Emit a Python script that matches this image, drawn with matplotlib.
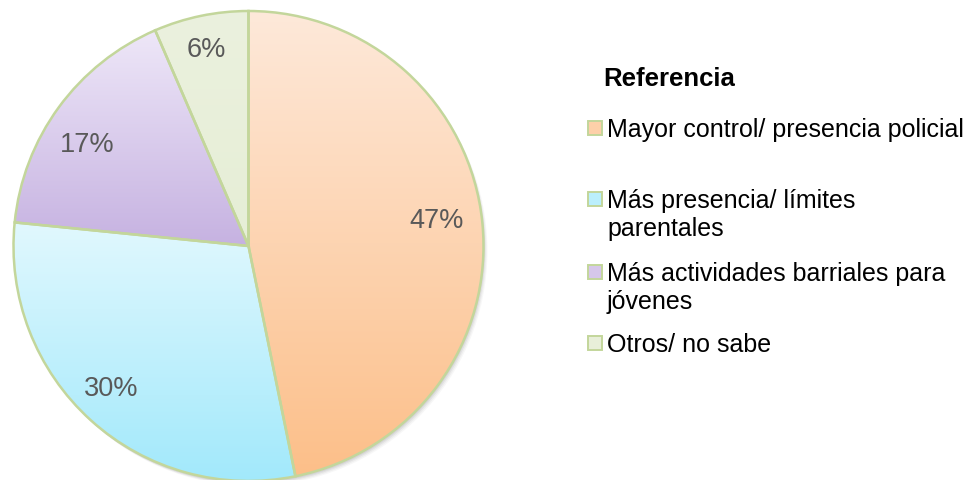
import numpy as np
import matplotlib
matplotlib.use("Agg")
import matplotlib.pyplot as plt
from matplotlib.colors import to_rgb
from matplotlib.patches import Rectangle, Circle

plt.rcParams["font.family"] = ["Liberation Sans", "DejaVu Sans"]

categorias = [
    "Mayor control/ presencia policial",
    "Más presencia/ límites\nparentales",
    "Más actividades barriales para\njóvenes",
    "Otros/ no sabe",
]
# tamaño de las porciones tal como se ven en el gráfico original
valores = [46.8, 29.8, 16.9, 6.5]
# rótulos que muestra el original
etiquetas_pct = ["47%", "30%", "17%", "6%"]

# degradado de cada porción: (arriba, abajo)
degradados = [
    ("#fee9da", "#fcbf89"),
    ("#e1f8fe", "#a2e9fb"),
    ("#eee7f8", "#c6b2e1"),
    ("#ebf1de", "#e6eed6"),
]
BORDE = "#c3d69b"
TEXTO_PCT = "#595959"

H = 481
fig = plt.figure(figsize=(9.71, 4.81), dpi=100)
ax = fig.add_axes([0, 0, 1, 1])

centro = (248.5, H - 247)
radio = 235

# sombra suave abajo a la derecha
for i, a in enumerate([0.06, 0.05, 0.04, 0.03]):
    ax.add_patch(Circle((centro[0] + 1 + i, centro[1] - 2 - i), radio, color="black",
                        alpha=a, lw=0, zorder=0))
ax.add_patch(Circle(centro, radio, color="white", lw=0, zorder=0.5))

wedges, _ = ax.pie(
    valores,
    startangle=90,
    counterclock=False,
    center=centro,
    radius=radio,
    wedgeprops={"facecolor": "none", "edgecolor": BORDE, "linewidth": 1.8, "zorder": 3},
    frame=True,
)

for w, (c_top, c_bot) in zip(wedges, degradados):
    ext = w.get_path().get_extents()
    t = np.linspace(0, 1, 256)[:, None]
    top = np.array(to_rgb(c_top))
    bot = np.array(to_rgb(c_bot))
    grad = (bot[None, :] * (1 - t) + top[None, :] * t)[:, None, :]
    im = ax.imshow(grad, extent=[ext.x0, ext.x1, ext.y0, ext.y1], origin="lower",
                   aspect="auto", zorder=2, interpolation="bilinear")
    im.set_clip_path(w)

# rótulos de porcentaje (x, línea base en píxeles)
pos_pct = [(436.5, 228), (111, 396), (87.5, 152), (206.5, 57)]
for txt, (x, y) in zip(etiquetas_pct, pos_pct):
    ax.text(x, H - y, txt, fontsize=19.5, color=TEXTO_PCT, ha="center", va="baseline", zorder=5)

ax.set_xlim(0, 971)
ax.set_ylim(0, H)
ax.set_aspect("auto")
ax.axis("off")

# leyenda
ax.text(603, H - 86.5, "Referencia", fontsize=18.5, fontweight="bold",
        ha="left", va="baseline", color="black")
bases = [137, 208, 280.5, 352]
for etiqueta, (c_top, c_bot), y in zip(categorias, degradados, bases):
    mezcla = tuple((np.array(to_rgb(c_top)) * 0.4 + np.array(to_rgb(c_bot)) * 0.6))
    ax.add_patch(Rectangle((587.5, H - y + 1), 14, 14, facecolor=mezcla,
                           edgecolor=BORDE, linewidth=1.4, zorder=4))
    for k, linea in enumerate(etiqueta.split("\n")):
        ax.text(607, H - (y + 28.5 * k), linea, fontsize=18, ha="left", va="baseline",
                color="black")

fig.savefig("out.png", dpi=100, facecolor="white")
